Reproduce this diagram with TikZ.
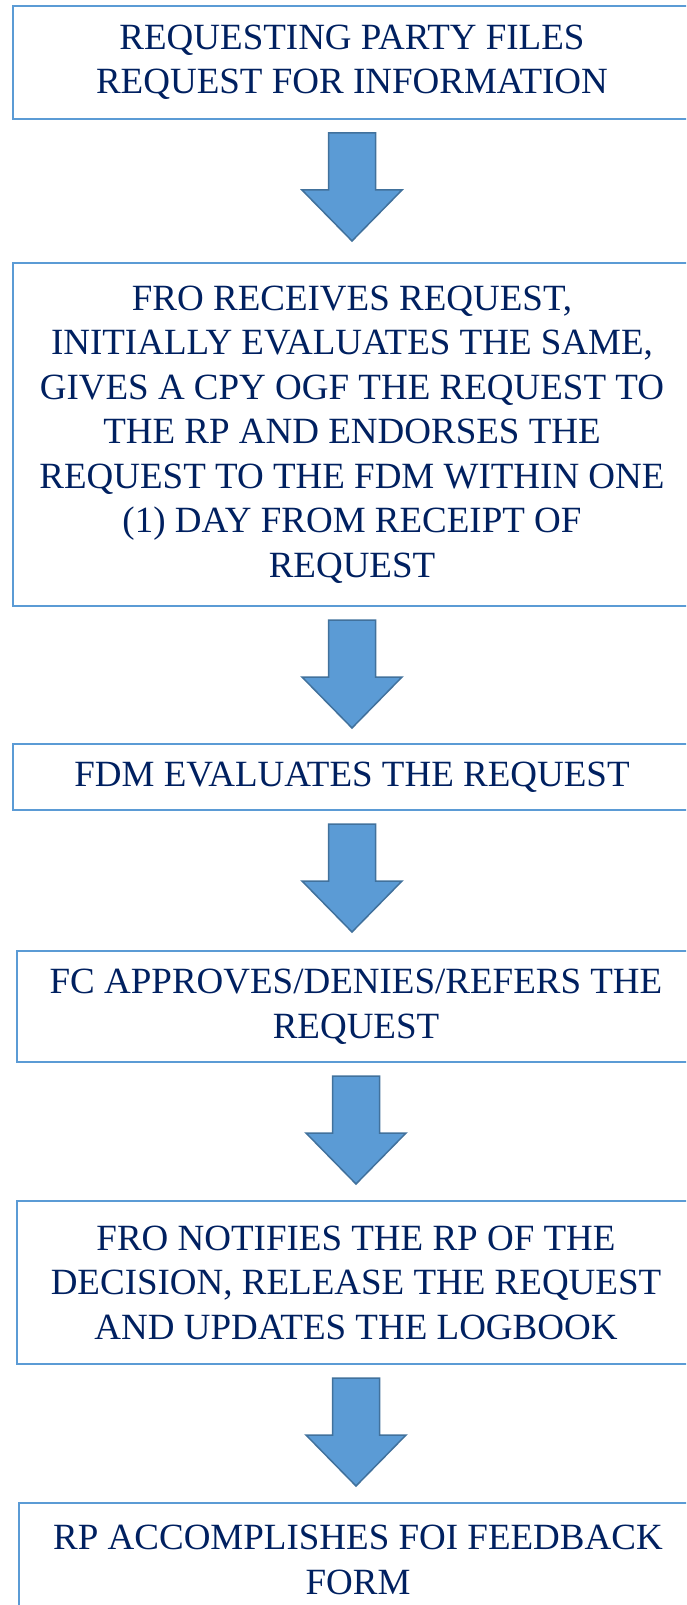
\documentclass[tikz,border=0pt]{standalone}
\usepackage{fontspec}
\setmainfont{Liberation Serif}
\usetikzlibrary{calc}
\definecolor{boxblue}{RGB}{91,155,213}
\definecolor{arrowedge}{RGB}{65,113,156}
\definecolor{textnavy}{RGB}{0,32,96}
\tikzset{
  stepbox/.style    = {draw=boxblue, line width=2pt, align=center, text=textnavy, inner sep=0pt, anchor=north west, font=\fontsize{37}{44.5}\selectfont},
  blockarrow/.style = {fill=boxblue, draw=arrowedge, line width=1.5pt, line join=miter},
}

\begin{document}
\begin{tikzpicture}[x=1pt, y=-1pt]
  \useasboundingbox (0,0) rectangle (686,1605);
  \clip (0,0) rectangle (686,1605);
  \node[stepbox, minimum width=678, minimum height=113] (rfi) at (12,5) {REQUESTING PARTY FILES\\REQUEST FOR INFORMATION};
  \node[stepbox, minimum width=678, minimum height=343] (fro) at (12,262) {FRO RECEIVES REQUEST,\\INITIALLY EVALUATES THE SAME,\\GIVES A CPY OGF THE REQUEST TO\\THE RP AND ENDORSES THE\\REQUEST TO THE FDM WITHIN ONE\\(1) DAY FROM RECEIPT OF\\REQUEST};
  \node[stepbox, minimum width=678, minimum height=66] (fdm) at (12,743) {FDM EVALUATES THE REQUEST};
  \node[stepbox, minimum width=678, minimum height=111] (fc) at (16,950) {FC APPROVES/DENIES/REFERS THE\\REQUEST};
  \node[stepbox, minimum width=678, minimum height=163] (notify) at (16,1200) {FRO NOTIFIES THE RP OF THE\\DECISION, RELEASE THE REQUEST\\AND UPDATES THE LOGBOOK};
  \node[stepbox, minimum width=678, minimum height=114] (feedback) at (18,1502) {RP ACCOMPLISHES FOI FEEDBACK\\FORM};
  % block arrows between the steps
  \foreach \a in {rfi,fro,fdm,fc,notify}
    \draw[blockarrow] ($(\a.south)+(-23.5,13)$) -- ++(47,0) -- ++(0,57) -- ++(26.5,0)
      -- ++(-50,51) -- ++(-50,-51) -- ++(26.5,0) -- cycle;
\end{tikzpicture}
\end{document}
